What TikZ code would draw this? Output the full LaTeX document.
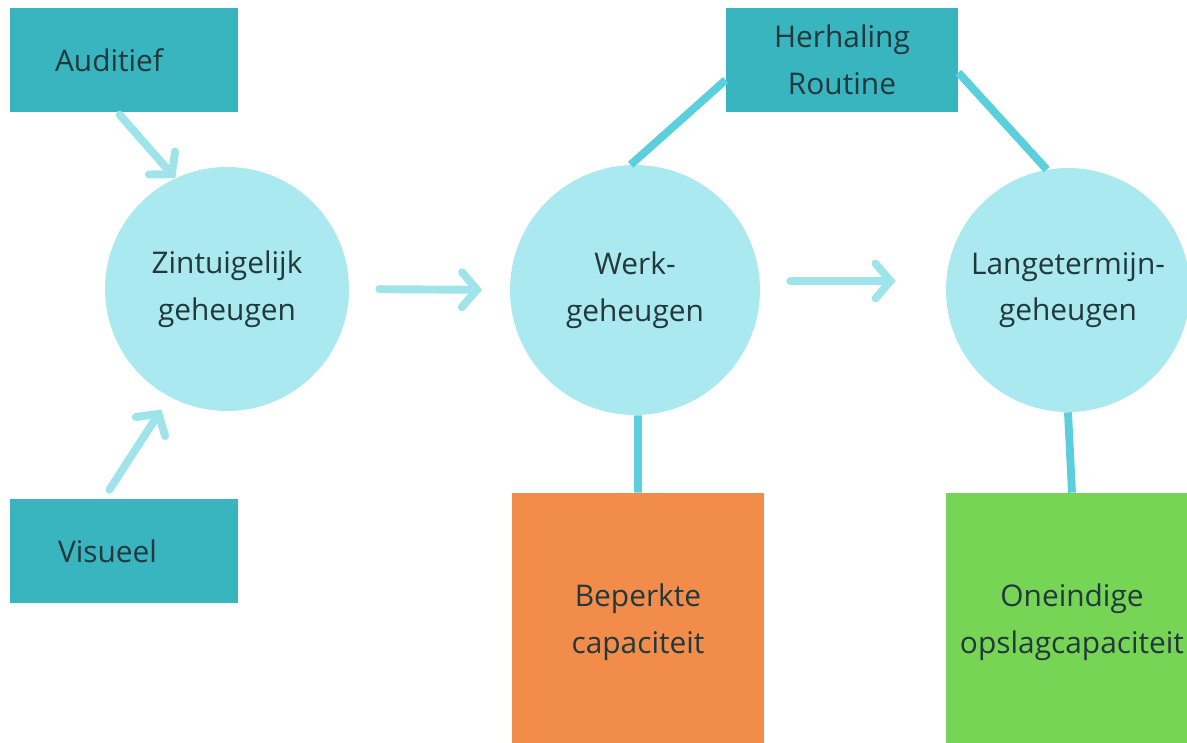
\documentclass[tikz,border=0pt]{standalone}
\usepackage{fontspec}
\setmainfont{Open Sans}
\usetikzlibrary{arrows.meta, positioning, calc}
\definecolor{boxteal}{RGB}{57,181,192}
\definecolor{circlecyan}{RGB}{169,233,239}
\definecolor{arrowcyan}{RGB}{160,228,235}
\definecolor{linecyan}{RGB}{92,207,221}
\definecolor{capaorange}{RGB}{242,140,74}
\definecolor{capagreen}{RGB}{119,213,86}
\definecolor{textdark}{RGB}{34,56,60}

\begin{document}
\begin{tikzpicture}[
        x=0.02cm, y=-0.02cm,
        every node/.style={text=textdark, font=\fontsize{17}{26.5}\selectfont},
        sense/.style={rectangle, fill=boxteal, minimum width=4.56cm, minimum height=2.1cm, inner xsep=0.9cm, text width=2.76cm, align=left},
        memory/.style={circle, fill=circlecyan, minimum size=4.88cm, align=center, inner sep=0pt},
        capacity/.style={rectangle, minimum width=5.04cm, minimum height=5.16cm, align=center},
        flow/.style={draw=arrowcyan, line width=4.5pt, line cap=round, -{Straight Barb[length=0.3cm, width=0.7cm, line cap=round]}},
        link/.style={draw=linecyan, line width=4.5pt}
    ]
        \useasboundingbox (0,0) rectangle (1187,743);
        \clip (0,0) rectangle (1187,743);

        \node[sense] (auditief) at (124,60) {Auditief};
        \node[sense, inner xsep=0.96cm, text width=2.64cm] (visueel) at (124,551) {Visueel};
        \node[rectangle, fill=boxteal, minimum width=4.64cm, minimum height=2.1cm, align=center] (herhaling) at (842,60) {Herhaling\\Routine};

        \node[memory] (zintuig) at (227,289) {Zintuigelijk\\geheugen};
        \node[memory, minimum size=5cm] (werk) at (635,290) {Werk-\\geheugen};
        \node[memory] (lang) at (1068,290) {Langetermijn-\\geheugen};

        \node[capacity, fill=capaorange] (beperkt) at (638,622) {Beperkte\\capaciteit};
        \node[capacity, fill=capagreen] (oneindig) at (1072,622) {Oneindige\\opslagcapaciteit};

        % pijlen
        \draw[flow, shorten <=0.05cm] ([xshift=-0.12cm]auditief.south) -- (zintuig.115);
        \draw[flow, shorten <=0.2cm, shorten >=0.3cm] ([xshift=-0.4cm]visueel.north) -- (zintuig.242);
        \draw[flow, shorten <=0.6cm, shorten >=0.55cm] (zintuig.east) -- (werk.west);
        \draw[flow, shorten <=0.6cm, shorten >=1.0cm] ([yshift=0.18cm]werk.east) -- ([yshift=0.18cm]lang.west);

        % verbindingen
        \draw[link] ([yshift=-0.4cm]herhaling.west) -- (werk.92);
        \draw[link] ([yshift=-0.25cm]herhaling.east) -- (lang.100);
        \draw[link] ([xshift=0.06cm]werk.south) -- (beperkt.north);
        \draw[link] (lang.south) -- (oneindig.north);
    \end{tikzpicture}
\end{document}
